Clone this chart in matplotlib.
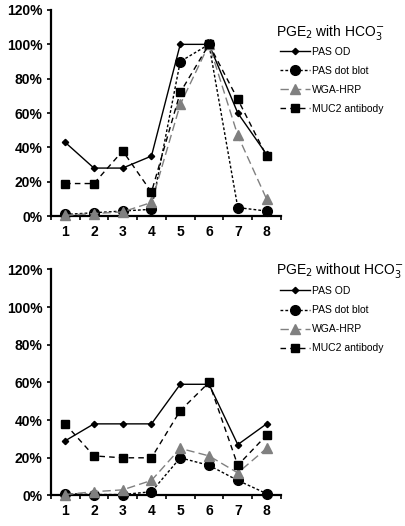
import matplotlib
matplotlib.use('Agg')
import matplotlib.pyplot as plt
from matplotlib.ticker import FuncFormatter

plt.rcParams['font.family'] = ['Liberation Sans', 'DejaVu Sans']

x = [1, 2, 3, 4, 5, 6, 7, 8]
series_names = ['PAS OD', 'PAS dot blot', 'WGA-HRP', 'MUC2 antibody']

# with HCO3- (percent)
with_pas_od = [43, 28, 28, 35, 100, 100, 60, 36]
with_pas_dot = [1, 2, 3, 4, 90, 100, 5, 3]
with_wga = [0.5, 1.5, 2.5, 8, 65, 100, 47, 10]
with_muc2 = [19, 19, 38, 14, 72, 100, 68, 35]

# without HCO3- (percent)
without_pas_od = [29, 38, 38, 38, 59, 59, 27, 38]
without_pas_dot = [1, 0.5, 0.5, 2, 20, 16, 8, 1]
without_wga = [0.5, 2, 3, 8, 25, 21, 12, 25]
without_muc2 = [38, 21, 20, 20, 45, 60, 16, 32]

styles = [
    dict(color='black', linestyle='-', linewidth=1.0, marker='D', markersize=3.2),
    dict(color='black', linestyle=(0, (2, 1.5)), linewidth=1.0, marker='o', markersize=7),
    dict(color='#808080', linestyle=(0, (6, 3)), linewidth=1.0, marker='^', markersize=7.5),
    dict(color='black', linestyle=(0, (4, 3)), linewidth=1.0, marker='s', markersize=5.8),
]


def draw_panel(ax, data, title, title_y, legend_top):
    for vals, name, st in zip(data, series_names, styles):
        ax.plot(x, vals, label=name, clip_on=False, zorder=3, **st)
    ax.set_xlim(0.5, 8.5)
    ax.set_ylim(0, 120)
    ax.set_yticks(range(0, 121, 20))
    ax.yaxis.set_major_formatter(FuncFormatter(lambda v, p: f'{int(v)}%'))
    ax.set_xticks([i + 0.5 for i in range(0, 9)])
    ax.set_xticklabels([])
    ax.set_xticks(x, minor=True)
    ax.set_xticklabels([str(i) for i in x], minor=True, fontweight='bold', fontsize=10)
    ax.tick_params(axis='x', which='minor', length=0, pad=6)
    ax.tick_params(axis='x', which='major', length=3, width=1.2, direction='out')
    ax.tick_params(axis='y', length=3, width=1.2, direction='out', pad=3)
    for lbl in ax.get_yticklabels():
        lbl.set_fontweight('bold')
        lbl.set_fontsize(10)
    for s in ['top', 'right']:
        ax.spines[s].set_visible(False)
    for s in ['left', 'bottom']:
        ax.spines[s].set_linewidth(1.6)
    fig.text(0.680, title_y, title, fontsize=10, va='center', ha='left')
    ax.legend(loc='upper left', bbox_to_anchor=(0.690, legend_top),
              bbox_transform=fig.transFigure, frameon=False, fontsize=7.5,
              handlelength=2.9, handletextpad=0.2, labelspacing=0.87,
              borderpad=0, borderaxespad=0)


fig = plt.figure(figsize=(4.06, 5.26), dpi=100)
ax1 = fig.add_axes([0.125, 0.589, 0.567, 0.392])
ax2 = fig.add_axes([0.125, 0.058, 0.567, 0.430])

draw_panel(ax1, [with_pas_od, with_pas_dot, with_wga, with_muc2],
           r'PGE$_2$ with HCO$_3^{-}$', 0.939, 0.911)
draw_panel(ax2, [without_pas_od, without_pas_dot, without_wga, without_muc2],
           r'PGE$_2$ without HCO$_3^{-}$', 0.485, 0.456)

fig.savefig('out.png', dpi=100)
